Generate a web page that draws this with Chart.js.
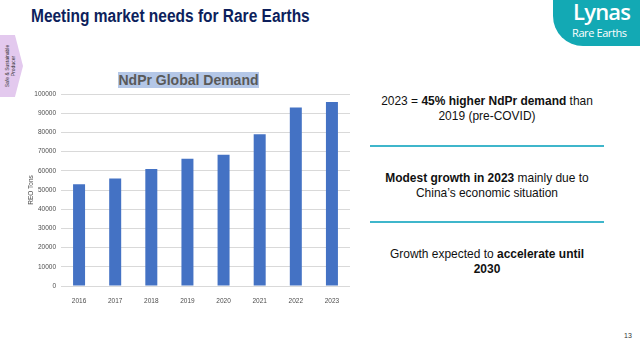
<!DOCTYPE html>
<html lang="en">
<head>
    <meta charset="UTF-8">
    <title>Meeting market needs for Rare Earths</title>
    <script src="https://cdn.jsdelivr.net/npm/chart.js"></script>
    <style>
        html, body { margin: 0; padding: 0; background: #fff; }
        body { width: 640px; height: 351px; position: relative; overflow: hidden; font-family: "Liberation Sans", Arial, sans-serif; }
        .title { position: absolute; left: 31px; top: 6px; font-size: 18px; font-weight: bold; color: #0d1f5c; transform: scaleX(0.86); transform-origin: left top; white-space: nowrap; }
        .logo { position: absolute; left: 553px; top: 0; width: 87px; height: 46px; background: #13a9b4; border-bottom-left-radius: 30px; }
        .logo .l1 { position: absolute; left: 20px; top: -4px; font-family: "Open Sans", sans-serif; font-size: 22px; color: #fff; font-weight: 600; letter-spacing: -0.8px; }
        .logo .l2 { position: absolute; left: 19px; top: 25px; font-family: "Open Sans", sans-serif; font-size: 11px; color: #fff; white-space: nowrap; letter-spacing: -0.4px; }
        .tab { position: absolute; left: 0; top: 35px; width: 23px; height: 62px; background: #e3c9ee; clip-path: polygon(0 0, 65% 0, 100% 50%, 65% 100%, 0 100%); }
        .tab span { position: absolute; left: 10px; top: 31px; transform: translate(-50%, -50%) rotate(-90deg); font-size: 5px; line-height: 6px; text-align: center; white-space: nowrap; color: #333; }
        .ctitle { position: absolute; left: 118px; top: 72px; width: 141px; height: 16px; background: #b4c7e7; color: #595959; font-weight: bold; font-size: 14px; line-height: 16px; text-align: center; white-space: nowrap; }
        .note { position: absolute; left: 367px; width: 240px; text-align: center; font-size: 13px; line-height: 15px; color: #111; }
        .note b { font-weight: bold; }
        .note div { transform: scaleX(0.92); }
        .rule { position: absolute; left: 370px; width: 234px; height: 1.5px; background: #3fb6cb; }
        .page { position: absolute; left: 624px; top: 332px; font-size: 7px; color: #333; }
        #wrap { position: absolute; left: 0; top: 0; width: 360px; height: 310px; }
    </style>
</head>
<body>
    <div class="tab"><span>Safe &amp; Sustainable<br>Producer</span></div>
    <div class="title">Meeting market needs for Rare Earths</div>
    <div class="logo"><div class="l1">Lynas</div><div class="l2">Rare Earths</div></div>

    <div id="wrap"><canvas id="demandChart" width="360" height="310"></canvas></div>
    <div class="ctitle">NdPr Global Demand</div>

    <div class="note" style="top: 93px;"><div>2023 = <b>45% higher NdPr demand</b> than<br>2019 (pre-COVID)</div></div>
    <div class="rule" style="top: 145px;"></div>
    <div class="note" style="top: 170px;"><div><b>Modest growth in 2023</b> mainly due to<br>China’s economic situation</div></div>
    <div class="rule" style="top: 221px;"></div>
    <div class="note" style="top: 246px;"><div>Growth expected to <b>accelerate until<br>2030</b></div></div>

    <div class="page">13</div>

    <script>
        // NdPr demand by year (REO tons)
        const years = ['2016', '2017', '2018', '2019', '2020', '2021', '2022', '2023'];
        const demand = [53000, 56000, 61000, 66300, 68300, 79000, 93000, 95800];
        const yMax = 100000;
        const yStep = 10000;

        const tickFont = { size: 6.5, family: 'Liberation Sans' };

        const ctx = document.getElementById('demandChart').getContext('2d');
        new Chart(ctx, {
            type: 'bar',
            data: {
                labels: years,
                datasets: [{
                    label: 'NdPr demand',
                    data: demand,
                    backgroundColor: '#4472c4',
                    borderColor: '#4472c4',
                    barPercentage: 0.4,
                    categoryPercentage: 0.83
                }]
            },
            options: {
                responsive: false,
                animation: false,
                layout: { padding: { top: 94, right: 10, left: 0, bottom: 0 } },
                plugins: { legend: { display: false }, tooltip: { enabled: false } },
                scales: {
                    x: {
                        grid: { display: false },
                        border: { display: false },
                        ticks: { color: '#4d4d4d', font: tickFont, padding: 3 },
                        afterFit: (s) => { s.height = 24; }
                    },
                    y: {
                        min: 0,
                        max: yMax,
                        grid: { color: '#d9d9d9', drawTicks: false },
                        border: { display: false },
                        ticks: {
                            stepSize: yStep,
                            color: '#4d4d4d',
                            font: tickFont,
                            padding: 5,
                            callback: (v) => String(v)   // no thousands separator
                        },
                        title: { display: true, text: 'REO Tons', color: '#4d4d4d', font: tickFont, padding: { top: 27, bottom: 0 } },
                        afterFit: (s) => { s.width = 61; }
                    }
                }
            }
        });
    </script>
</body>
</html>
